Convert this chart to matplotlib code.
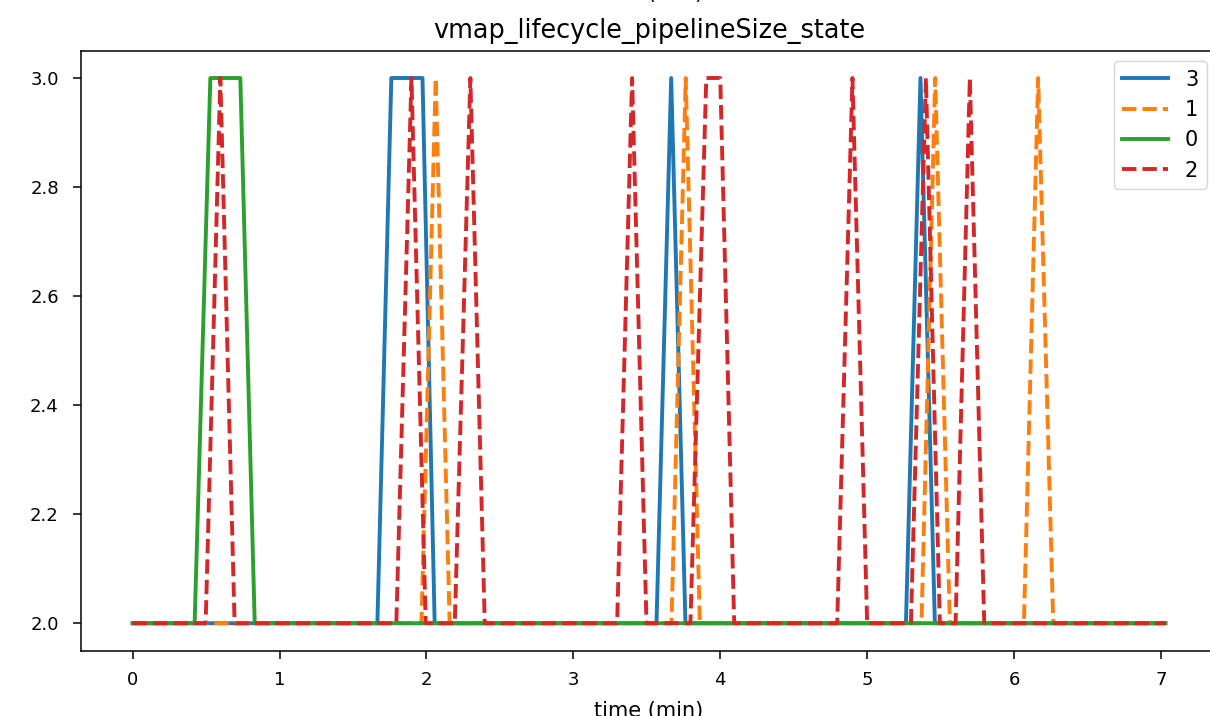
import matplotlib
matplotlib.use("Agg")
import matplotlib.pyplot as plt

# ---- data (time in minutes, pipeline size state) ----
t_3 = [0, 1.666, 1.761, 1.973, 2.056, 3.566, 3.666, 3.763, 5.264, 5.363, 5.461, 7.03]
v_3 = [2, 2, 3, 3, 2, 2, 3, 2, 2, 3, 2, 2]

t_1 = [0, 1.966, 2.063, 2.158, 3.668, 3.765, 3.861, 5.370, 5.463, 5.563, 6.067, 6.164, 6.267, 7.03]
v_1 = [2, 2, 3, 2, 2, 3, 2, 2, 3, 2, 2, 3, 2, 2]

t_0 = [0, 0.422, 0.529, 0.733, 0.831, 7.03]
v_0 = [2, 2, 3, 3, 2, 2]

t_2 = [0, 0.497, 0.597, 0.694, 1.795, 1.898, 1.995, 2.193, 2.299, 2.397,
       3.298, 3.400, 3.498, 3.797, 3.905, 4.000, 4.095, 4.796, 4.900, 5.000,
       5.298, 5.400, 5.495, 5.602, 5.699, 5.797, 7.03]
v_2 = [2, 2, 3, 2, 2, 3, 2, 2, 3, 2,
       2, 3, 2, 2, 3, 3, 2, 2, 3, 2,
       2, 3, 2, 2, 3, 2, 2]

series_labels = ["3", "1", "0", "2"]
series_t = [t_3, t_1, t_0, t_2]
series_v = [v_3, v_1, v_0, v_2]
colors = ["#1f77b4", "#ff7f0e", "#2ca02c", "#d62728"]
dashed = [False, True, False, True]

x_ticks = [0, 1, 2, 3, 4, 5, 6, 7]
y_ticks = [2.0, 2.2, 2.4, 2.6, 2.8, 3.0]

fig = plt.figure(figsize=(12.10, 7.16), dpi=100)
ax = fig.add_axes([81 / 1210, (716 - 650.5) / 716, (1217 - 81) / 1210, 599.75 / 716])

for lab, t, v, c, d in zip(series_labels, series_t, series_v, colors, dashed):
    if d:
        ax.plot(t, v, color=c, lw=2.8, label=lab, dashes=(3.7, 1.55))
    else:
        ax.plot(t, v, color=c, lw=2.8, label=lab)

ax.set_xticks(x_ticks)
ax.set_yticks(y_ticks)
ax.set_yticklabels([f"{y:.1f}" for y in y_ticks])
ax.tick_params(axis="both", labelsize=13, length=6, width=1.1)
ax.tick_params(axis="x", pad=8.5)
ax.tick_params(axis="y", pad=10)
for s in ax.spines.values():
    s.set_linewidth(1.1)
ax.spines["right"].set_visible(False)

ax.set_title("vmap_lifecycle_pipelineSize_state", fontsize=18.4, pad=9)
ax.set_xlabel("time (min)", fontsize=15, labelpad=9)

leg = ax.legend(loc="upper right", fontsize=15, handlelength=2.2)

# label of the panel above, mostly cut off by the image edge
fig.text(649 / 1210, 1 + 0.6 / 716, "time (min)", fontsize=15, ha="center", va="baseline")

fig.savefig("out.png", dpi=100)
